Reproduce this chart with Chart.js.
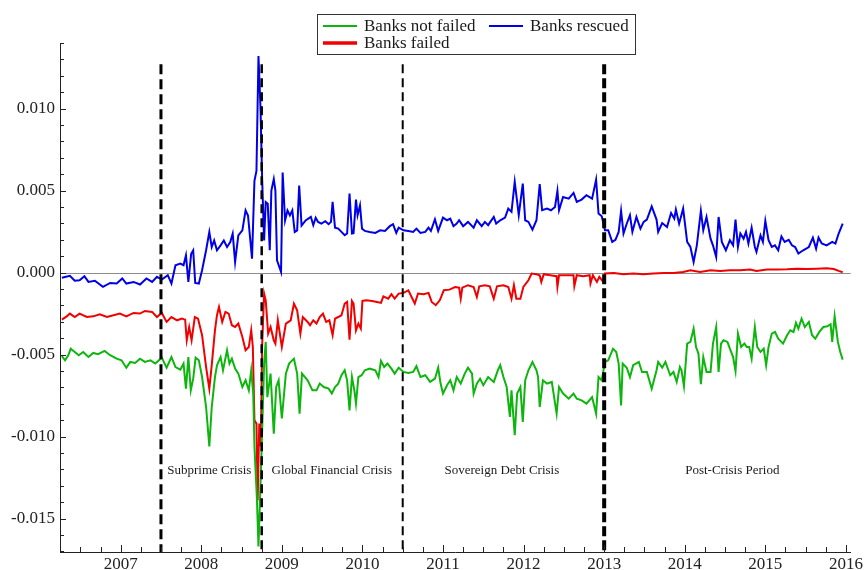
<!DOCTYPE html>
<html>
<head>
<meta charset="utf-8">
<script src="https://cdn.jsdelivr.net/npm/chart.js@4/dist/chart.umd.min.js"></script>
<style>
  html, body { margin: 0; padding: 0; background: #fff; }
  .chart-container { width: 865px; height: 570px; }
</style>
</head>
<body>
<div class="chart-container"><canvas id="myChart" width="865" height="570"></canvas></div>
<script>
// 1, 데이터

    // 연도(소수) / 값
    const notFailedT = [2006.27,2006.31,2006.35,2006.38,2006.43,2006.48,2006.535,2006.60,2006.66,2006.72,2006.80,2006.87,2006.95,2007.01,2007.07,2007.12,2007.18,2007.24,2007.30,2007.37,2007.43,2007.51,2007.57,2007.63,2007.68,2007.74,2007.78,2007.81,2007.84,2007.87,2007.90,2007.93,2007.97,2008.01,2008.06,2008.10,2008.13,2008.17,2008.195,2008.24,2008.27,2008.32,2008.35,2008.38,2008.42,2008.46,2008.51,2008.55,2008.59,2008.62,2008.645,2008.66,2008.69,2008.71,2008.73,2008.75,2008.78,2008.80,2008.82,2008.86,2008.90,2008.93,2008.96,2009.00,2009.05,2009.09,2009.15,2009.19,2009.22,2009.25,2009.32,2009.38,2009.43,2009.47,2009.52,2009.58,2009.62,2009.66,2009.70,2009.74,2009.78,2009.81,2009.84,2009.87,2009.90,2009.92,2009.95,2009.99,2010.03,2010.09,2010.16,2010.20,2010.23,2010.27,2010.31,2010.36,2010.40,2010.45,2010.51,2010.57,2010.63,2010.67,2010.72,2010.78,2010.84,2010.90,2010.94,2010.97,2011.00,2011.05,2011.09,2011.13,2011.17,2011.22,2011.27,2011.31,2011.36,2011.38,2011.42,2011.46,2011.50,2011.56,2011.63,2011.68,2011.71,2011.75,2011.79,2011.83,2011.85,2011.89,2011.92,2011.96,2011.99,2012.02,2012.06,2012.11,2012.16,2012.18,2012.20,2012.24,2012.29,2012.35,2012.41,2012.44,2012.49,2012.56,2012.62,2012.66,2012.72,2012.78,2012.85,2012.90,2012.93,2012.97,2013.01,2013.05,2013.11,2013.15,2013.18,2013.21,2013.23,2013.28,2013.32,2013.36,2013.43,2013.47,2013.53,2013.59,2013.65,2013.67,2013.72,2013.76,2013.82,2013.86,2013.90,2013.94,2013.96,2013.99,2014.03,2014.07,2014.11,2014.14,2014.17,2014.20,2014.23,2014.27,2014.32,2014.35,2014.39,2014.42,2014.45,2014.48,2014.53,2014.56,2014.60,2014.63,2014.66,2014.70,2014.74,2014.77,2014.80,2014.83,2014.87,2014.90,2014.94,2014.98,2015.01,2015.04,2015.08,2015.12,2015.16,2015.22,2015.27,2015.31,2015.35,2015.38,2015.41,2015.45,2015.49,2015.54,2015.58,2015.62,2015.67,2015.72,2015.77,2015.81,2015.83,2015.86,2015.90,2015.93,2015.96];
    const notFailedV = [-0.00510,-0.00535,-0.00504,-0.00464,-0.00484,-0.00504,-0.00484,-0.00515,-0.00490,-0.00498,-0.00478,-0.00504,-0.00525,-0.00535,-0.00580,-0.00545,-0.00551,-0.00525,-0.00545,-0.00535,-0.00555,-0.00519,-0.00580,-0.00515,-0.00576,-0.00592,-0.00555,-0.00708,-0.00515,-0.00718,-0.00647,-0.00519,-0.00535,-0.00637,-0.00820,-0.01060,-0.00820,-0.00637,-0.00565,-0.00515,-0.00596,-0.00474,-0.00555,-0.00525,-0.00586,-0.00616,-0.00698,-0.00657,-0.00718,-0.00596,-0.00738,-0.01060,-0.01370,-0.01670,-0.01370,-0.01060,-0.00555,-0.00423,-0.00760,-0.00616,-0.00982,-0.00698,-0.00657,-0.00890,-0.00616,-0.00555,-0.00525,-0.00616,-0.00860,-0.00616,-0.00657,-0.00718,-0.00718,-0.00677,-0.00698,-0.00708,-0.00738,-0.00698,-0.00677,-0.00626,-0.00596,-0.00657,-0.00840,-0.00637,-0.00718,-0.00799,-0.00637,-0.00626,-0.00596,-0.00586,-0.00596,-0.00637,-0.00539,-0.00576,-0.00555,-0.00586,-0.00616,-0.00580,-0.00606,-0.00612,-0.00606,-0.00571,-0.00637,-0.00626,-0.00667,-0.00647,-0.00580,-0.00677,-0.00738,-0.00687,-0.00657,-0.00718,-0.00637,-0.00677,-0.00616,-0.00580,-0.00616,-0.00738,-0.00677,-0.00647,-0.00687,-0.00637,-0.00667,-0.00596,-0.00565,-0.00637,-0.00698,-0.00880,-0.00718,-0.00992,-0.00738,-0.00698,-0.00911,-0.00657,-0.00596,-0.00545,-0.00596,-0.00637,-0.00820,-0.00657,-0.00677,-0.00667,-0.00860,-0.00698,-0.00738,-0.00769,-0.00738,-0.00769,-0.00779,-0.00799,-0.00759,-0.00860,-0.00637,-0.00657,-0.00545,-0.00535,-0.00464,-0.00484,-0.00555,-0.00810,-0.00555,-0.00580,-0.00637,-0.00565,-0.00545,-0.00606,-0.00606,-0.00708,-0.00596,-0.00545,-0.00580,-0.00545,-0.00626,-0.00606,-0.00667,-0.00576,-0.00596,-0.00693,-0.00433,-0.00423,-0.00342,-0.00454,-0.00494,-0.00681,-0.00515,-0.00606,-0.00606,-0.00433,-0.00332,-0.00606,-0.00433,-0.00413,-0.00423,-0.00464,-0.00515,-0.00600,-0.00372,-0.00454,-0.00433,-0.00454,-0.00454,-0.00525,-0.00332,-0.00454,-0.00484,-0.00464,-0.00565,-0.00454,-0.00372,-0.00362,-0.00403,-0.00433,-0.00382,-0.00352,-0.00362,-0.00307,-0.00342,-0.00281,-0.00332,-0.00301,-0.00382,-0.00403,-0.00362,-0.00332,-0.00328,-0.00315,-0.00423,-0.00267,-0.00423,-0.00484,-0.00531];

    const rescuedT = [2006.27,2006.37,2006.43,2006.49,2006.55,2006.60,2006.68,2006.78,2006.87,2006.95,2007.02,2007.07,2007.16,2007.24,2007.32,2007.39,2007.45,2007.51,2007.585,2007.63,2007.68,2007.74,2007.78,2007.81,2007.84,2007.875,2007.90,2007.925,2007.97,2008.01,2008.06,2008.10,2008.13,2008.16,2008.195,2008.24,2008.28,2008.32,2008.36,2008.39,2008.42,2008.46,2008.51,2008.55,2008.58,2008.63,2008.66,2008.685,2008.71,2008.735,2008.755,2008.78,2008.80,2008.825,2008.85,2008.87,2008.90,2008.92,2008.94,2008.99,2009.01,2009.04,2009.07,2009.10,2009.13,2009.16,2009.19,2009.215,2009.245,2009.295,2009.36,2009.39,2009.42,2009.45,2009.49,2009.54,2009.58,2009.61,2009.63,2009.66,2009.70,2009.74,2009.78,2009.81,2009.84,2009.87,2009.89,2009.92,2009.94,2009.97,2009.995,2010.03,2010.09,2010.16,2010.22,2010.28,2010.34,2010.38,2010.42,2010.45,2010.51,2010.57,2010.63,2010.67,2010.72,2010.78,2010.82,2010.85,2010.90,2010.94,2011.00,2011.05,2011.09,2011.13,2011.17,2011.20,2011.25,2011.31,2011.38,2011.42,2011.48,2011.52,2011.56,2011.63,2011.66,2011.71,2011.77,2011.81,2011.85,2011.89,2011.94,2011.99,2012.02,2012.06,2012.11,2012.16,2012.20,2012.23,2012.29,2012.34,2012.39,2012.42,2012.44,2012.49,2012.56,2012.62,2012.66,2012.72,2012.78,2012.85,2012.90,2012.93,2012.97,2013.01,2013.05,2013.10,2013.14,2013.18,2013.21,2013.24,2013.28,2013.32,2013.35,2013.40,2013.45,2013.49,2013.53,2013.59,2013.65,2013.67,2013.72,2013.78,2013.83,2013.87,2013.89,2013.93,2013.98,2014.03,2014.07,2014.11,2014.15,2014.20,2014.23,2014.27,2014.32,2014.35,2014.39,2014.42,2014.46,2014.51,2014.56,2014.60,2014.63,2014.66,2014.69,2014.73,2014.76,2014.79,2014.83,2014.87,2014.89,2014.94,2014.97,2015.00,2015.04,2015.08,2015.12,2015.16,2015.20,2015.24,2015.29,2015.33,2015.37,2015.41,2015.47,2015.54,2015.59,2015.63,2015.66,2015.70,2015.76,2015.83,2015.87,2015.91,2015.96];
    const rescuedV = [-0.00032,-0.00020,-0.00050,-0.00047,-0.00022,-0.00057,-0.00050,-0.00087,-0.00063,-0.00067,-0.00036,-0.00067,-0.00057,-0.00073,-0.00036,-0.00057,-0.00026,-0.00043,-0.00016,-0.00067,0.00045,0.00055,0.00045,0.00105,-0.00057,0.00115,0.00136,-0.00063,-0.00067,0.00014,0.00136,0.00247,0.00156,0.00196,0.00136,0.00166,0.00196,0.00156,0.00186,0.00237,0.00065,0.00227,0.00257,0.00379,0.00348,0.00085,0.00560,0.00620,0.01320,0.01006,0.00580,0.00196,0.00430,0.00420,0.00136,0.00500,0.00570,0.00500,0.00075,0.00004,0.00610,0.00318,0.00379,0.00348,0.00379,0.00247,0.00257,0.00530,0.00287,0.00318,0.00340,0.00289,0.00335,0.00309,0.00299,0.00313,0.00295,0.00309,0.00431,0.00274,0.00268,0.00248,0.00228,0.00238,0.00482,0.00238,0.00240,0.00445,0.00350,0.00410,0.00268,0.00254,0.00248,0.00242,0.00258,0.00254,0.00283,0.00295,0.00242,0.00274,0.00258,0.00254,0.00248,0.00268,0.00242,0.00248,0.00274,0.00254,0.00325,0.00254,0.00335,0.00319,0.00329,0.00283,0.00299,0.00319,0.00283,0.00309,0.00274,0.00319,0.00283,0.00309,0.00289,0.00340,0.00299,0.00319,0.00335,0.00390,0.00370,0.00553,0.00350,0.00543,0.00319,0.00309,0.00262,0.00319,0.00539,0.00380,0.00390,0.00380,0.00400,0.00498,0.00380,0.00461,0.00451,0.00486,0.00431,0.00445,0.00472,0.00451,0.00567,0.00360,0.00343,0.00258,0.00258,0.00187,0.00200,0.00248,0.00376,0.00238,0.00298,0.00350,0.00248,0.00339,0.00268,0.00309,0.00323,0.00404,0.00323,0.00248,0.00302,0.00278,0.00363,0.00329,0.00384,0.00298,0.00390,0.00187,0.00156,0.00065,0.00166,0.00376,0.00258,0.00339,0.00207,0.00166,0.00095,0.00339,0.00187,0.00136,0.00197,0.00166,0.00323,0.00156,0.00238,0.00207,0.00248,0.00177,0.00274,0.00156,0.00126,0.00227,0.00187,0.00315,0.00197,0.00156,0.00166,0.00136,0.00221,0.00187,0.00200,0.00166,0.00156,0.00116,0.00136,0.00156,0.00213,0.00146,0.00213,0.00177,0.00166,0.00187,0.00177,0.00238,0.00298];

    const failedT = [2006.27,2006.33,2006.37,2006.43,2006.49,2006.58,2006.66,2006.74,2006.83,2006.91,2006.99,2007.07,2007.16,2007.24,2007.30,2007.39,2007.45,2007.51,2007.57,2007.63,2007.70,2007.76,2007.80,2007.82,2007.85,2007.88,2007.92,2007.96,2008.01,2008.06,2008.10,2008.13,2008.17,2008.195,2008.22,2008.26,2008.30,2008.34,2008.38,2008.42,2008.46,2008.51,2008.55,2008.59,2008.62,2008.64,2008.66,2008.685,2008.70,2008.72,2008.74,2008.755,2008.78,2008.80,2008.83,2008.86,2008.90,2008.92,2008.95,2009.00,2009.05,2009.11,2009.15,2009.19,2009.23,2009.26,2009.32,2009.35,2009.39,2009.43,2009.47,2009.51,2009.55,2009.59,2009.63,2009.66,2009.70,2009.74,2009.78,2009.81,2009.84,2009.87,2009.89,2009.92,2009.95,2009.98,2010.00,2010.05,2010.12,2010.18,2010.23,2010.26,2010.32,2010.36,2010.40,2010.45,2010.51,2010.57,2010.61,2010.65,2010.69,2010.76,2010.82,2010.86,2010.91,2010.96,2011.01,2011.08,2011.15,2011.20,2011.22,2011.24,2011.31,2011.38,2011.42,2011.45,2011.52,2011.58,2011.63,2011.67,2011.75,2011.81,2011.85,2011.88,2011.91,2011.96,2011.997,2012.06,2012.10,2012.16,2012.20,2012.22,2012.25,2012.33,2012.41,2012.42,2012.44,2012.54,2012.62,2012.63,2012.66,2012.74,2012.82,2012.83,2012.86,2012.91,2012.94,2012.99,2013.01,2013.12,2013.24,2013.36,2013.49,2013.61,2013.74,2013.86,2013.98,2014.07,2014.19,2014.32,2014.44,2014.56,2014.69,2014.81,2014.89,2015.02,2015.14,2015.27,2015.39,2015.52,2015.64,2015.76,2015.85,2015.91,2015.96];
    const failedV = [-0.00287,-0.00267,-0.00250,-0.00271,-0.00250,-0.00271,-0.00267,-0.00254,-0.00271,-0.00260,-0.00250,-0.00267,-0.00246,-0.00250,-0.00234,-0.00240,-0.00271,-0.00246,-0.00301,-0.00271,-0.00291,-0.00281,-0.00287,-0.00413,-0.00332,-0.00413,-0.00271,-0.00281,-0.00382,-0.00576,-0.00708,-0.00565,-0.00352,-0.00260,-0.00210,-0.00301,-0.00240,-0.00250,-0.00321,-0.00332,-0.00311,-0.00393,-0.00474,-0.00454,-0.00352,-0.00454,-0.00901,-0.00921,-0.01390,-0.00921,-0.01060,-0.00454,-0.00128,-0.00169,-0.00372,-0.00332,-0.00413,-0.00433,-0.00291,-0.00454,-0.00311,-0.00291,-0.00190,-0.00230,-0.00372,-0.00271,-0.00301,-0.00321,-0.00291,-0.00311,-0.00271,-0.00250,-0.00301,-0.00291,-0.00382,-0.00281,-0.00271,-0.00260,-0.00189,-0.00179,-0.00409,-0.00173,-0.00189,-0.00352,-0.00311,-0.00342,-0.00173,-0.00169,-0.00173,-0.00179,-0.00185,-0.00145,-0.00159,-0.00132,-0.00159,-0.00128,-0.00124,-0.00108,-0.00149,-0.00189,-0.00128,-0.00132,-0.00124,-0.00179,-0.00199,-0.00169,-0.00108,-0.00104,-0.00088,-0.00092,-0.00159,-0.00092,-0.00077,-0.00088,-0.00149,-0.00084,-0.00077,-0.00084,-0.00159,-0.00084,-0.00077,-0.00088,-0.00159,-0.00077,-0.00159,-0.00159,-0.00088,-0.00047,-0.00006,-0.00010,-0.00016,-0.00057,-0.00010,-0.00016,-0.00022,-0.00087,-0.00016,-0.00016,-0.00016,-0.00083,-0.00016,-0.00022,-0.00016,-0.00067,-0.00016,-0.00057,-0.00026,-0.00057,-0.00006,-0.00002,-0.00010,-0.00006,-0.00010,-0.00006,-0.00002,-0.00002,0.00004,0.00014,0.00004,0.00014,0.00010,0.00014,0.00014,0.00018,0.00010,0.00018,0.00018,0.00020,0.00024,0.00022,0.00024,0.00026,0.00022,0.00010,0.00002];

    // 축 눈금 라벨
    const yLabels = ['0.010', '0.005', '0.000', '-0.005', '-0.010', '-0.015'];
    const xLabels = ['2007', '2008', '2009', '2010', '2011', '2012', '2013', '2014', '2015', '2016'];

    // 위기 구간 경계 (세로 점선) 와 구간 이름
    const breakYears = [2007.5, 2008.75, 2010.5, 2013.0];
    const periodNames = ['Subprime Crisis', 'Global Financial Crisis', 'Sovereign Debt Crisis', 'Post-Crisis Period'];
    const periodMidYears = [2008.10, 2009.62, 2011.73, 2014.59];

// 2, 스타일 / 기타 변수

    const 세리프 = '"Liberation Serif", "Times New Roman", "DejaVu Serif", serif';
    const 초록 = '#0db50d';
    const 파랑 = '#0000e8';
    const 빨강 = '#f00000';
    // 점선 두께, 패턴
    const 점선두께 = [3, 2.5, 2, 4];
    const 점선패턴 = [[10, 5], [9, 5], [9, 5], [10, 4]];

    function 점들만들기(ts, vs){
        return ts.map((t, i) => ({ x: t, y: vs[i] }));
    }

    // 안쪽으로 향하는 눈금, 0 선, 점선, 글자, 범례 그리기
    const 꾸미기 = {
        id: 'decor',
        beforeDatasetsDraw(chart){
            const { ctx, chartArea: a, scales: { y } } = chart;
            ctx.save();
            ctx.strokeStyle = '#8c8c8c';
            ctx.lineWidth = 1;
            const y0 = Math.round(y.getPixelForValue(0)) + 0.5;
            ctx.beginPath();
            ctx.moveTo(a.left, y0);
            ctx.lineTo(a.right, y0);
            ctx.stroke();
            ctx.restore();
        },
        afterDatasetsDraw(chart){
            const { ctx, chartArea: a, scales: { x, y } } = chart;
            ctx.save();
            // 세로 점선
            const top = y.getPixelForValue(0.0127);
            breakYears.forEach((yr, i) => {
                const px = x.getPixelForValue(yr);
                ctx.strokeStyle = '#000';
                ctx.lineWidth = 점선두께[i];
                ctx.setLineDash(점선패턴[i]);
                ctx.beginPath();
                ctx.moveTo(px, top);
                ctx.lineTo(px, a.bottom);
                ctx.stroke();
            });
            ctx.setLineDash([]);

            // 눈금 (안쪽)
            ctx.strokeStyle = '#222';
            ctx.lineWidth = 1;
            y.ticks.forEach(t => {
                const py = Math.round(y.getPixelForValue(t.value)) + 0.5;
                const major = Math.abs(t.value / 0.005 - Math.round(t.value / 0.005)) < 1e-6;
                ctx.beginPath();
                ctx.moveTo(a.left, py);
                ctx.lineTo(a.left + (major ? 6 : 4), py);
                ctx.stroke();
            });
            x.ticks.forEach(t => {
                const px = Math.round(x.getPixelForValue(t.value)) + 0.5;
                const major = Math.abs(t.value - Math.round(t.value)) < 1e-6;
                ctx.beginPath();
                ctx.moveTo(px, a.bottom);
                ctx.lineTo(px, a.bottom - (major ? 7 : 5));
                ctx.stroke();
            });

            // 구간 이름
            ctx.fillStyle = '#1a1a1a';
            ctx.font = '13px ' + 세리프;
            ctx.textAlign = 'center';
            ctx.textBaseline = 'middle';
            const ty = y.getPixelForValue(-0.01206);
            periodNames.forEach((nm, i) => {
                ctx.fillText(nm, x.getPixelForValue(periodMidYears[i]), ty);
            });

            // 범례 상자
            ctx.fillStyle = '#fff';
            ctx.fillRect(317, 14, 319, 41);
            ctx.strokeStyle = '#333';
            ctx.lineWidth = 1;
            ctx.strokeRect(317.5, 14.5, 318, 40);
            const 항목 = [
                { c: 초록, w: 2, x: 323, y: 26, t: 'Banks not failed' },
                { c: 파랑, w: 2, x: 489, y: 26, t: 'Banks rescued' },
                { c: 빨강, w: 3.5, x: 323, y: 43, t: 'Banks failed' }
            ];
            ctx.font = '17px ' + 세리프;
            ctx.textAlign = 'left';
            항목.forEach(h => {
                ctx.strokeStyle = h.c;
                ctx.lineWidth = h.w;
                ctx.beginPath();
                ctx.moveTo(h.x, h.y);
                ctx.lineTo(h.x + 34, h.y);
                ctx.stroke();
                ctx.fillStyle = '#1a1a1a';
                ctx.fillText(h.t, h.x + 41, h.y + 1);
            });
            ctx.restore();
        }
    };

// 3, 차트 생성

    const ctx = document.getElementById('myChart').getContext('2d');
    const newChart = new Chart(ctx, {
        type: 'line',
        data: {
            datasets: [
                { label: 'Banks not failed', data: 점들만들기(notFailedT, notFailedV), borderColor: 초록 },
                { label: 'Banks rescued', data: 점들만들기(rescuedT, rescuedV), borderColor: 파랑 },
                { label: 'Banks failed', data: 점들만들기(failedT, failedV), borderColor: 빨강 }
            ]
        },
        options: {
            responsive: false,
            animation: false,
            layout: { padding: { top: 43, right: 14, left: 0, bottom: 0 } },
            elements: {
                line: { borderWidth: 2, tension: 0, fill: false },
                point: { radius: 0 }
            },
            plugins: { legend: { display: false }, tooltip: { enabled: false } },
            scales: {
                x: {
                    type: 'linear',
                    min: 2006.247,
                    max: 2016.06,
                    grid: { display: false, drawTicks: false },
                    border: { display: true, color: '#222', width: 1 },
                    afterFit(s){ s.height = 18; },
                    ticks: {
                        stepSize: 0.25,
                        includeBounds: false,
                        autoSkip: false,
                        maxRotation: 0,
                        padding: 2,
                        color: '#222',
                        font: { family: 세리프, size: 17 },
                        callback(v){
                            const lab = String(Math.round(v));
                            return (Math.abs(v - Math.round(v)) < 1e-6 && xLabels.includes(lab)) ? lab : '';
                        }
                    }
                },
                y: {
                    min: -0.01704,
                    max: 0.0140,
                    grid: { display: false, drawTicks: false },
                    border: { display: true, color: '#222', width: 1 },
                    afterFit(s){ s.width = 60; },
                    ticks: {
                        stepSize: 0.001,
                        includeBounds: false,
                        autoSkip: false,
                        padding: 5,
                        color: '#222',
                        font: { family: 세리프, size: 17 },
                        callback(v){
                            if (Math.abs(v / 0.005 - Math.round(v / 0.005)) > 1e-6) return '';
                            const lab = (Math.round(v * 1000) / 1000).toFixed(3);
                            return yLabels.includes(lab) ? lab : '';
                        }
                    }
                }
            }
        },
        plugins: [꾸미기]
    });
</script>
</body>
</html>
